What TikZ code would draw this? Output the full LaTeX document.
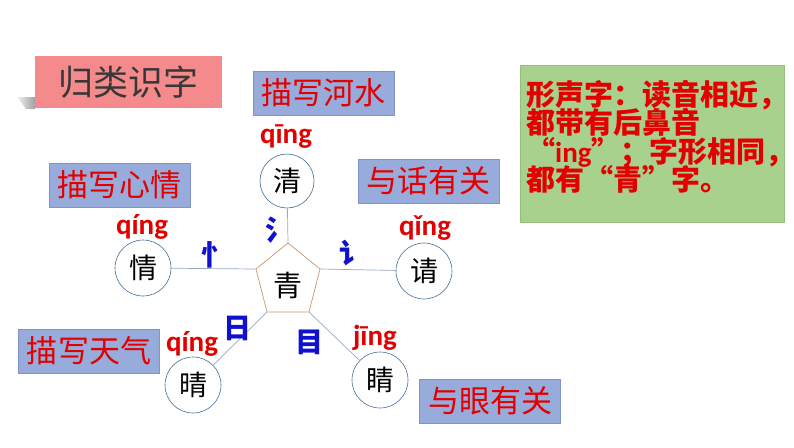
\documentclass[tikz,border=0pt]{standalone}
\usepackage{fontspec}
\setmainfont{Carlito}
\newfontfamily\cjk{Noto Sans CJK SC}
\usetikzlibrary{shapes.geometric}
\definecolor{boxblue}{RGB}{152,172,220}
\definecolor{boxblueline}{RGB}{128,148,204}
\definecolor{boxgreen}{RGB}{169,209,142}
\definecolor{boxgreenline}{RGB}{150,190,125}
\definecolor{boxpink}{RGB}{244,138,140}
\definecolor{txtred}{RGB}{226,0,0}
\definecolor{txtblue}{RGB}{16,16,208}
\definecolor{connline}{RGB}{150,168,196}
\definecolor{circline}{RGB}{70,110,150}
\definecolor{pentline}{RGB}{205,150,110}
\definecolor{titletxt}{RGB}{55,55,55}
\tikzset{
  catbox/.style={fill=boxblue, draw=boxblueline, line width=0.6pt, minimum width=141, minimum height=44, inner sep=0pt, text=txtred, font=\cjk\fontsize{31}{34}\selectfont},
  charcirc/.style={circle, draw=circline, fill=white, line width=0.6pt, minimum size=56, inner sep=0pt, font=\cjk\fontsize{28}{30}\selectfont},
  pinyin/.style={inner sep=0pt, text=txtred, font=\bfseries\fontsize{29}{32}\selectfont},
  radical/.style={inner sep=0pt, text=txtblue, font=\cjk\bfseries\fontsize{28}{30}\selectfont},
  conn/.style={draw=connline, line width=0.7pt},
  noteline/.style={anchor=base west, inner sep=0pt, text=txtred, font=\cjk\bfseries\fontsize{29}{30}\selectfont}
}
\begin{document}
\begin{tikzpicture}[x=1pt,y=-1pt]
\useasboundingbox (0,0) rectangle (794,447);
% title
\shade[left color=gray!10, right color=gray!75] (17,97) -- (35,97) -- (35,109) -- (26,109) -- cycle;
\node[fill=boxpink, minimum width=187, minimum height=52, inner sep=0pt, text=titletxt, font=\cjk\fontsize{35}{38}\selectfont] (title) at (128.5,82) {归类识字};
% category boxes
\node[catbox] (b1) at (323.5,93) {描写河水};
\node[catbox] (b2) at (428.5,181) {与话有关};
\node[catbox] (b3) at (119.5,185) {描写心情};
\node[catbox] (b4) at (89,351) {描写天气};
\node[catbox] (b5) at (490,401) {与眼有关};
% green note
\node[fill=boxgreen, draw=boxgreenline, line width=0.6pt, minimum width=264, minimum height=157, inner sep=0pt] (note) at (652,143.5) {};
\node[noteline] (n1) at (526,105) {形声字：读音相近，};
\node[noteline] (n2) at (526,133.5) {都带有后鼻音};
\node[noteline] (n3) at (526,162) {“\textrm{ing}”；字形相同，};
\node[noteline] (n4) at (526,190.5) {都有“青”字。};
% pentagon
\coordinate (pt) at (288,243);
\coordinate (pl) at (256,269);
\coordinate (pr) at (320,269);
\coordinate (pbl) at (267,312);
\coordinate (pbr) at (309,312);
\filldraw[fill=white, draw=pentline, line width=0.7pt] (pt) -- (pr) -- (pbr) -- (pbl) -- (pl) -- cycle;
\node[inner sep=0pt, font=\cjk\fontsize{29}{30}\selectfont] (qing) at (288,286) {青};
% character circles
\node[charcirc, minimum size=54] (c1) at (287,181) {清};
\node[charcirc] (c2) at (143,268) {情};
\node[charcirc] (c3) at (424,271) {请};
\node[charcirc] (c4) at (193,385) {晴};
\node[charcirc] (c5) at (380,380) {睛};
% connectors
\draw[conn] (c1) -- (pt);
\draw[conn] (c2) -- (pl);
\draw[conn] (c3) -- (pr);
\draw[conn] (c4) -- (pbl);
\draw[conn] (c5) -- (pbr);
% pinyin
\node[pinyin] (py1) at (286,137) {qīng};
\node[pinyin] (py2) at (142,227) {qíng};
\node[pinyin] (py3) at (425,228) {qǐng};
\node[pinyin] (py4) at (192,344) {qíng};
\node[pinyin] (py5) at (375,338) {jīng};
% radicals
\node[radical] (r1) at (279,230) {氵};
\node[radical] (r2) at (215,255) {忄};
\node[radical] (r3) at (353,253) {讠};
\node[radical] (r4) at (237,328) {日};
\node[radical] (r5) at (309,342) {目};
\end{tikzpicture}
\end{document}
